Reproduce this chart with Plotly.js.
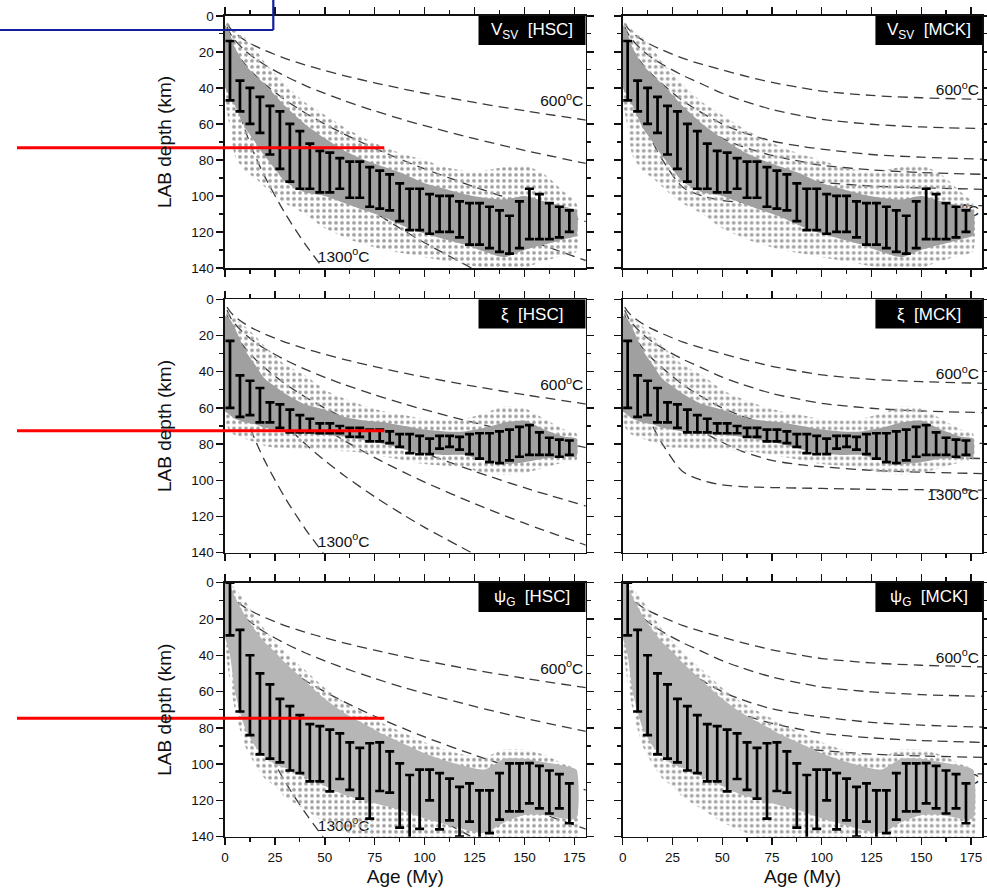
<!DOCTYPE html>
<html>
<head>
<meta charset="utf-8">
<script src="https://cdn.plot.ly/plotly-3.0.1.min.js"></script>
<style>
html,body{margin:0;padding:0;background:#fff;}
#chart{width:987px;height:892px;}
</style>
</head>
<body>
<div id="chart"></div>
<script>
// ---------------- data ----------------
// bin centres of the 5-My age bins (My)
const binAge = [2.5,7.5,12.5,17.5,22.5,27.5,32.5,37.5,42.5,47.5,52.5,57.5,62.5,67.5,72.5,77.5,82.5,87.5,92.5,97.5,102.5,107.5,112.5,117.5,122.5,127.5,132.5,137.5,142.5,147.5,152.5,157.5,162.5,167.5,172.5];

// LAB depth range per bin (top / bottom of each bar, km)
const vsvTop = [14,36,40,45,50,53,60,64,71,75,76,79,81,81,84,86,88,93,96,96,99,100,100,103,104,104,106,108,111,103,96,99,104,106,108];
const vsvBot = [47,53,60,65,77,85,92,96,96,98,98,96,101,101,106,107,108,114,119,119,121,120,120,123,127,127,129,131,132,129,124,124,124,123,120];
const xiTop  = [23,42,45,49,57,58,61,64,66,68.5,68.5,70,71,71,72,72,73,74.5,74.5,75.5,77,75.5,75.5,76,74.5,74,74,73,72,70.5,69.5,73.5,76.5,77.5,78];
const xiBot  = [60,65,64,68,68,71,73.5,73.5,73.5,74,74,74,76,76,78.5,78.5,79.5,81.5,85,85.5,85.5,82.5,81.5,83,85.5,88,90,90.5,89,87,86,86,86,87,86];
const psiTop = [0,26,40,50,56,64,68,73,78,79,81,83,88,91,88.5,88,93,99.6,106,103,103,105,108,112.5,110.6,114.5,114.5,105,99.6,99.6,99.4,101,103.5,105.5,110.6];
const psiBot = [29,71,84,94.6,97,99,103.5,105,109.5,109.5,115,108.2,114.2,119,130,114.8,115.7,135,143,135.7,120,136,131,140,131.7,143,138,130.6,126,126,121.6,124.4,127.2,124.4,132.6];

// envelopes of the grey cloud of individual estimates (km)
const cloudAge = [0,2.5,5,10,15,20,25,30,40,50,60,70,80,90,100,110,120,130,140,150,160,170,176];
const vsvCoreTop = [5,10,18,27,33,38,44,50,60,68,75,80,84,88,93,96,99,101,102,100,103,106,108];
const vsvCoreBot = [40,45,50,62,70,78,85,92,98,100,104,108,112,117,121,124,127,131,134,130,127,124,122];
const vsvOutTop  = [2,5,8,12,18,26,32,38,48,55,62,68,73,77,80,84,86,86,84,83,88,98,104];
const vsvOutBot  = [48,62,78,86,90,95,100,104,110,118,123,127,130,132,134,136,138,140,141,140,136,133,131];
const xiCoreTop  = [9,11,16,28,36,44,48,52,58,61,65,67,68,70,72,73,73,71,68,67,72,76,77];
const xiCoreBot  = [62,64,66,68,69,71,72,73,74,75,76,78,80,83,85,86,86,89,91,90,88,87,87];
const xiOutTop   = [6,8,10,15,20,26,31,36,42,50,55,59,62,64,66,67,66,63,59,60,66,72,74];
const xiOutBot   = [68,73,75,77,79,81,82,82,83,83,84,85,87,89,91,92,93,96,97,96,93,90,89];
const psiCoreTop = [0,2,8,18,26,33,38,44,54,64,72,78,84,89,94,98,101,103,97,97,99,101,103];
const psiCoreBot = [30,40,60,80,90,96,100,102,107,112,117,120,123,126,130,133,136,138,132,128,128,130,130];
const psiOutTop  = [0,1,3,10,18,26,32,38,48,58,66,72,78,83,88,92,95,96,92,92,95,100,103];
const psiOutBot  = [35,55,70,90,100,108,112,118,125,132,137,141,143,143,143,143,143,143,143,143,143,143,143];

// isotherm depths (km)
const isoAge = [1,3,5,10,15,20,30,40,50,60,75,90,100,125,150,181];
const hsc600  = [4.3,7.4,9.6,13.6,16.7,19.2,23.6,27.2,30.4,33.3,37.2,40.8,43.0,48.1,52.7,57.9];
const hsc800  = [6.1,10.6,13.6,19.3,23.6,27.3,33.4,38.6,43.1,47.2,52.8,57.9,61.0,68.2,74.7,82.0];
const hsc1000 = [8.5,14.7,19.0,26.9,32.9,38.0,46.6,53.8,60.1,65.8,73.6,80.6,85.0,95.0,104.1,114.3];
const hsc1100 = [10.1,17.5,22.6,31.9,39.1,45.2,55.3,63.9,71.4,78.2,87.5,95.8,101.0,112.9,123.7,135.9];
const hsc1200 = [12.6,21.8,28.2,39.8,48.8,56.3,69.0,79.7,89.1,97.6,109.1,119.5,126.0,140.9,null,null];
const hsc1300 = [20.0,34.6,44.7,63.2,77.5,89.4,109.5,126.5,141.4,null,null,null,null,null,null,null];
const mck600  = [4.3,7.4,9.6,13.5,16.5,19.0,23.5,27.0,30.0,33.0,37.0,40.0,41.8,44.2,45.5,46.4];
const mck800  = [6.1,10.6,13.6,19.3,23.5,27.0,33.0,38.0,43.0,47.0,52.0,55.5,57.5,60.2,61.7,62.6];
const mck1000 = [8.5,14.7,19.0,27.0,33.0,38.0,47.0,54.0,60.0,64.5,69.5,72.5,74.0,77.0,78.5,79.6];
const mck1100 = [10.1,17.5,22.6,32.0,39.0,45.0,55.0,62.0,68.0,72.5,77.5,81.0,83.0,85.5,87.0,88.0];
const mck1200 = [12.6,21.8,28.0,39.0,47.5,54.0,65.0,73.0,79.0,84.0,89.0,91.5,92.5,94.5,95.5,96.3];
const mck1300 = [20.0,34.0,42.0,58.0,70.0,80.0,95.0,100.0,102.5,103.5,104.0,104.3,104.5,105.0,105.2,105.4];

const rowNames = ['V<sub>SV</sub>', 'ξ', 'ψ<sub>G</sub>'];
const modelNames = ['HSC', 'MCK'];
const isoLabels = ['600<sup>o</sup>C', '1300<sup>o</sup>C'];
const xTickVals = [0,25,50,75,100,125,150,175];
const yTickVals = [0,20,40,60,80,100,120,140];

// ---------------- layout geometry ----------------
const W = 987, H = 892;
const colPx = [[225, 585.7], [622.7, 982.3]];
const rowPx = [[15.8, 268], [299.3, 552.7], [582.7, 836.7]];
const AGE_MAX = 180.7;
const FONT = 'Liberation Sans, Arial, Helvetica, sans-serif';
const INK = '#111111';

const rows = [
  {top: vsvTop, bot: vsvBot, coreTop: vsvCoreTop, coreBot: vsvCoreBot, outTop: vsvOutTop, outBot: vsvOutBot, core: '#a0a0a0'},
  {top: xiTop, bot: xiBot, coreTop: xiCoreTop, coreBot: xiCoreBot, outTop: xiOutTop, outBot: xiOutBot, core: '#a0a0a0'},
  {top: psiTop, bot: psiBot, coreTop: psiCoreTop, coreBot: psiCoreBot, outTop: psiOutTop, outBot: psiOutBot, core: '#b6b6b6'}
];
const models = [
  {curves: [hsc600, hsc800, hsc1000, hsc1100, hsc1200, hsc1300],
   labels: [{t: isoLabels[0], x: 179.5, y: 48, pos: 'middle left'},
            {t: isoLabels[1], x: 46.5, y: 134.5, pos: 'middle right'}]},
  {curves: [mck600, mck800, mck1000, mck1100, mck1200, mck1300],
   labels: [{t: isoLabels[0], x: 179, y: 42, pos: 'middle left'},
            {t: isoLabels[1], x: 179, y: 109, pos: 'middle left'}]}
];

function poly(top, bot) {
  return {x: cloudAge.concat(cloudAge.slice().reverse()),
          y: top.concat(bot.slice().reverse())};
}

const traces = [];
const layout = {
  width: W, height: H,
  margin: {l: 0, r: 0, t: 0, b: 0},
  paper_bgcolor: '#ffffff', plot_bgcolor: '#ffffff',
  showlegend: false,
  font: {family: FONT, color: INK},
  shapes: [], annotations: []
};

for (let r = 0; r < 3; r++) {
  for (let c = 0; c < 2; c++) {
    const p = r * 2 + c + 1;
    const sfx = p === 1 ? '' : String(p);
    const xa = 'x' + sfx, ya = 'y' + sfx;
    const row = rows[r], model = models[c];

    // isotherms
    model.curves.forEach(cv => traces.push({
      type: 'scatter', mode: 'lines', x: isoAge, y: cv, xaxis: xa, yaxis: ya,
      line: {color: '#3a3a3a', width: 1.3, dash: '10px,6px', shape: 'spline', smoothing: 0.8},
      hoverinfo: 'skip'
    }));
    // isotherm labels
    model.labels.forEach(lb => traces.push({
      type: 'scatter', mode: 'text', x: [lb.x], y: [lb.y], text: [lb.t], textposition: lb.pos,
      textfont: {family: FONT, size: 15.5, color: INK}, xaxis: xa, yaxis: ya, hoverinfo: 'skip'
    }));
    // sparse cloud
    const po = poly(row.outTop, row.outBot);
    traces.push({
      type: 'scatter', mode: 'lines', x: po.x, y: po.y, xaxis: xa, yaxis: ya,
      fill: 'toself', fillcolor: 'rgba(0,0,0,0)', line: {width: 0, shape: 'spline', smoothing: 0.6},
      fillpattern: {shape: '.', size: 6, solidity: 0.3, fgcolor: '#9e9e9e', bgcolor: 'rgba(0,0,0,0)'},
      hoverinfo: 'skip'
    });
    // dense cloud
    const pc = poly(row.coreTop, row.coreBot);
    traces.push({
      type: 'scatter', mode: 'lines', x: pc.x, y: pc.y, xaxis: xa, yaxis: ya,
      fill: 'toself', fillcolor: row.core, line: {width: 0, shape: 'spline', smoothing: 0.6},
      hoverinfo: 'skip'
    });
    // error bars
    const mid = row.top.map((t, i) => (t + row.bot[i]) / 2);
    traces.push({
      type: 'scatter', mode: 'markers', x: binAge, y: mid, xaxis: xa, yaxis: ya,
      marker: {size: 2, color: 'rgba(0,0,0,0)'},
      error_y: {type: 'data', symmetric: false,
                array: row.bot.map((b, i) => b - mid[i]),
                arrayminus: row.top.map((t, i) => mid[i] - t),
                color: '#000000', thickness: 2.7, width: 4.5},
      hoverinfo: 'skip'
    });

    const tickCommon = {
      ticks: 'outside', ticklen: 7, tickwidth: 1.4, tickcolor: INK,
      showline: true, linecolor: INK, linewidth: 1.6, mirror: 'ticks',
      showgrid: false, zeroline: false,
      tickfont: {family: FONT, size: 13.5, color: INK}
    };
    const xax = Object.assign({}, tickCommon, {
      domain: [colPx[c][0] / W, colPx[c][1] / W], anchor: ya,
      range: [0, AGE_MAX], tickmode: 'array', tickvals: xTickVals,
      showticklabels: r === 2,
      minor: {dtick: 12.5, tick0: 0, ticks: 'outside', ticklen: 4, tickwidth: 1.2, tickcolor: INK}
    });
    if (r === 2) xax.title = {text: 'Age (My)', font: {family: FONT, size: 19, color: INK}, standoff: 6};
    const yax = Object.assign({}, tickCommon, {
      domain: [1 - rowPx[r][1] / H, 1 - rowPx[r][0] / H], anchor: xa,
      range: [140, 0], tickmode: 'array', tickvals: yTickVals,
      showticklabels: c === 0,
      minor: {dtick: 10, tick0: 0, ticks: 'outside', ticklen: 4, tickwidth: 1.2, tickcolor: INK}
    });
    if (c === 0) yax.title = {text: 'LAB depth (km)', font: {family: FONT, size: 19, color: INK}, standoff: 14};
    layout['xaxis' + sfx] = xax;
    layout['yaxis' + sfx] = yax;

    // black label box
    layout.shapes.push({type: 'rect', xref: xa, yref: ya, x0: 127, x1: AGE_MAX, y0: 0, y1: 16.2,
      fillcolor: '#000000', line: {width: 0}, layer: 'above'});
    layout.annotations.push({xref: xa, yref: ya, x: 154, y: 8.2, showarrow: false,
      text: rowNames[r] + '\u00a0\u00a0[' + modelNames[c] + ']',
      font: {family: FONT, size: 17, color: '#ffffff'}, xanchor: 'center', yanchor: 'middle'});
  }
}

// overlay marks drawn on top of the figure (red markers and blue frame), in pixels
const redLineY = [147.7, 430.7, 718.3];
const redLineX = [17, 384.3];
redLineY.forEach(py => layout.shapes.push({type: 'line', xref: 'paper', yref: 'paper',
  x0: redLineX[0] / W, x1: redLineX[1] / W, y0: 1 - py / H, y1: 1 - py / H,
  line: {color: '#ff0000', width: 3}, layer: 'above'}));
const blueBox = {right: 273.3, bottom: 30};
layout.shapes.push({type: 'line', xref: 'paper', yref: 'paper', x0: -0.01, x1: blueBox.right / W,
  y0: 1 - blueBox.bottom / H, y1: 1 - blueBox.bottom / H, line: {color: '#14209a', width: 2.2}, layer: 'above'});
layout.shapes.push({type: 'line', xref: 'paper', yref: 'paper', x0: blueBox.right / W, x1: blueBox.right / W,
  y0: 1 - blueBox.bottom / H, y1: 1.01, line: {color: '#14209a', width: 2.2}, layer: 'above'});

Plotly.newPlot('chart', traces, layout, {staticPlot: true, displayModeBar: false});
</script>
</body>
</html>
